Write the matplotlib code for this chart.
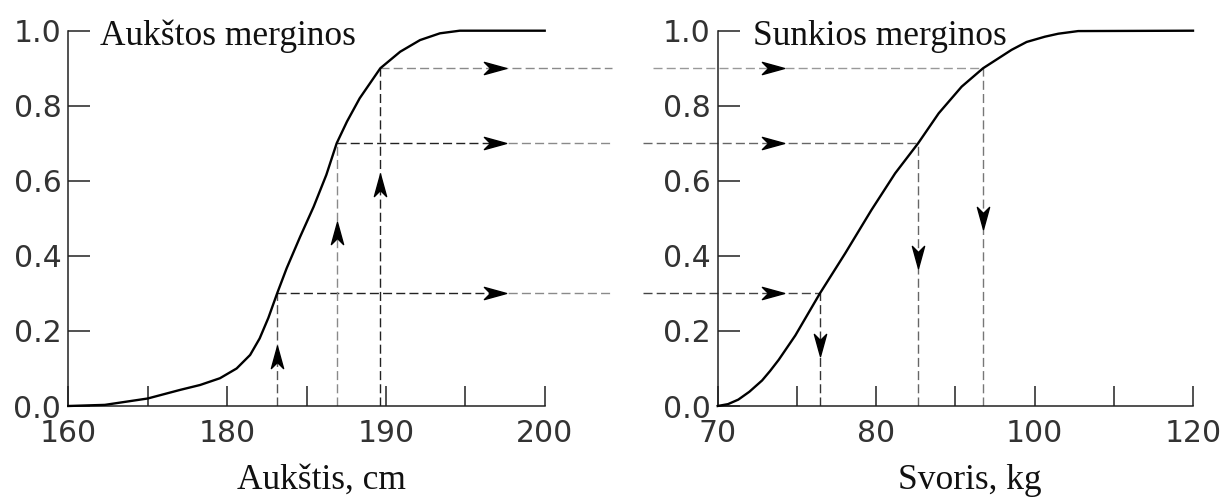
import matplotlib.pyplot as plt
from matplotlib.markers import MarkerStyle
from matplotlib.path import Path

plt.rcParams['lines.scale_dashes'] = False

# x is given in tick positions (0..6); only every second tick has a label
tick_pos = [0, 1, 2, 3, 4, 5, 6]
height_labels = ['160', '', '180', '', '190', '', '200']
weight_labels = ['70', '', '80', '', '100', '', '120']

height_pos = [0, 0.46, 1.0, 1.41, 1.66, 1.91, 2.12, 2.29, 2.41, 2.52, 2.63, 2.75,
              2.92, 3.09, 3.25, 3.38, 3.51, 3.67, 3.93, 4.18, 4.43, 4.68, 4.93, 6.0]
height_cdf = [0, 0.003, 0.02, 0.043, 0.056, 0.074, 0.10, 0.136, 0.18, 0.235, 0.30, 0.367,
              0.451, 0.531, 0.616, 0.70, 0.758, 0.82, 0.90, 0.944, 0.975, 0.993, 1.0, 1.0]

weight_pos = [0, 0.13, 0.26, 0.4, 0.56, 0.66, 0.77, 0.98, 1.29, 1.61, 1.94, 2.24, 2.53, 2.79,
              3.08, 3.35, 3.71, 3.9, 4.13, 4.3, 4.55, 6.0]
weight_cdf = [0, 0.005, 0.017, 0.038, 0.068, 0.093, 0.123, 0.188, 0.30, 0.407, 0.522, 0.62, 0.70,
              0.78, 0.851, 0.90, 0.949, 0.97, 0.984, 0.992, 0.999, 1.0]

levels = [0.3, 0.7, 0.9]
height_cross = [2.63, 3.38, 3.93]
weight_cross = [1.29, 2.53, 3.35]
height_arrow_up = [0.13, 0.46, 0.59]
weight_arrow_down = [0.163, 0.398, 0.50]

# arrow head shape (pointing right)
head = Path([(1, 0), (-1, 0.55), (-0.45, 0), (-1, -0.55), (1, 0)],
            [Path.MOVETO, Path.LINETO, Path.LINETO, Path.LINETO, Path.CLOSEPOLY])
right_head = MarkerStyle(head)
up_head = MarkerStyle(head).rotated(deg=90)
down_head = MarkerStyle(head).rotated(deg=-90)

dash = (0, (6.5, 3.0))
lw_d = 1.0
tick_col = '#333333'

fig = plt.figure(figsize=(12.22, 4.97), dpi=100)
ax1 = fig.add_axes([68.3 / 1222, 91 / 497, 476.4 / 1222, 375.3 / 497])
ax2 = fig.add_axes([717.7 / 1222, 91 / 497, 475.3 / 1222, 375.3 / 497])

for ax, labels in [(ax1, height_labels), (ax2, weight_labels)]:
    ax.set_xlim(0, 6)
    ax.set_ylim(0, 1)
    for s in ['top', 'right']:
        ax.spines[s].set_visible(False)
    for s in ['left', 'bottom']:
        ax.spines[s].set_linewidth(1.1)
        ax.spines[s].set_color('#222222')
    ax.set_xticks(tick_pos)
    ax.set_xticklabels(labels)
    ax.set_yticks([0, 0.2, 0.4, 0.6, 0.8, 1.0])
    ax.set_yticklabels(['0.0', '0.2', '0.4', '0.6', '0.8', '1.0'])
    ax.tick_params(axis='x', direction='in', length=14.5, width=1.1, pad=9,
                   labelsize=21.5, labelcolor=tick_col, color='#222222')
    ax.tick_params(axis='y', direction='in', length=15.5, width=1.1, pad=5,
                   labelsize=21.5, labelcolor=tick_col, color='#222222')
    ax.patch.set_visible(False)

# left panel: height
ax1.plot(height_pos, height_cdf, color='black', lw=1.7, clip_on=False, zorder=5,
         solid_joinstyle='round')
v_cols = ['#555555', '#8a8a8a', '#222222']
for lev, xc, ya, vc in zip(levels, height_cross, height_arrow_up, v_cols):
    ax1.plot([xc, xc], [0, lev], ls=dash, lw=lw_d, color=vc)
    ax1.plot([xc], [ya], marker=up_head, ms=16, color='black', ls='none')
    if lev == 0.9:
        ax1.plot([xc, 6.85], [lev, lev], ls=dash, lw=lw_d, color='#8a8a8a', clip_on=False)
    else:
        ax1.plot([xc, 5.37], [lev, lev], ls=dash, lw=lw_d, color='#222222', clip_on=False)
        ax1.plot([5.37, 6.85], [lev, lev], ls=dash, lw=lw_d, color='#8a8a8a', clip_on=False)
    ax1.plot([5.37], [lev], marker=right_head, ms=16, color='black', ls='none', clip_on=False)

# right panel: weight
ax2.plot(weight_pos, weight_cdf, color='black', lw=1.7, clip_on=False, zorder=5,
         solid_joinstyle='round')
h_starts = [-0.94, -0.94, -0.82]
h_cols = ['#444444', '#666666', '#999999']
v_cols = ['#333333', '#666666', '#777777']
for lev, xc, ya, xs, hc, vc in zip(levels, weight_cross, weight_arrow_down,
                                   h_starts, h_cols, v_cols):
    ax2.plot([xs, xc], [lev, lev], ls=dash, lw=lw_d, color=hc, clip_on=False)
    ax2.plot([0.70], [lev], marker=right_head, ms=16, color='black', ls='none', clip_on=False)
    ax2.plot([xc, xc], [0, lev], ls=dash, lw=lw_d, color=vc)
    ax2.plot([xc], [ya], marker=down_head, ms=16, color='black', ls='none')

serif = 'Liberation Serif'
ax1.text(0.0665, 0.962, 'Aukštos merginos', transform=ax1.transAxes,
         fontsize=25.5, family=serif, va='baseline', ha='left', color='#111111')
ax2.text(0.0743, 0.962, 'Sunkios merginos', transform=ax2.transAxes,
         fontsize=25.5, family=serif, va='baseline', ha='left', color='#111111')

fig.text(321 / 1222, 8 / 497, 'Aukštis, cm', fontsize=25.5, family=serif,
         ha='center', va='baseline', color='#111111')
fig.text(970 / 1222, 8 / 497, 'Svoris, kg', fontsize=25.5, family=serif,
         ha='center', va='baseline', color='#111111')

fig.savefig('out.png', dpi=100, facecolor='white')
